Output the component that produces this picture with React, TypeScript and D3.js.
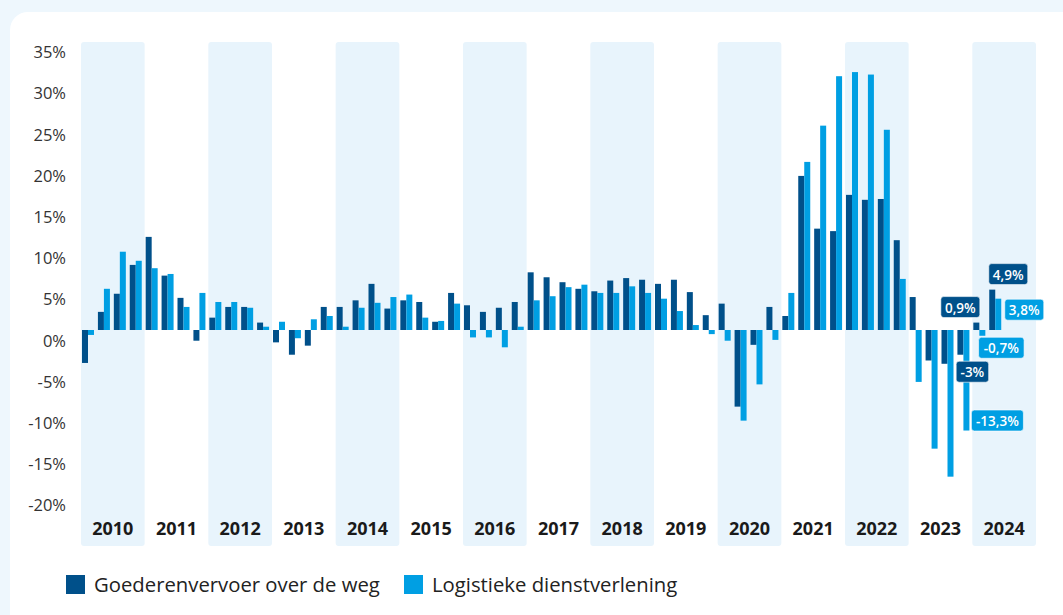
import React from "react";
import * as d3 from "d3";

// year categories and quarterly growth (% y-o-y)
const years = ["2010", "2011", "2012", "2013", "2014", "2015", "2016", "2017", "2018", "2019", "2020", "2021", "2022", "2023", "2024"];
const quarterNames = ["K1", "K2", "K3", "K4"];

const wegvervoer = [
  -4.0, 2.2, 4.4, 7.9,
  11.3, 6.6, 3.9, -1.3,
  1.5, 2.8, 2.8, 0.9,
  -1.5, -3.0, -1.9, 2.8,
  2.8, 3.6, 5.6, 2.6,
  3.6, 3.4, 1.0, 4.5,
  3.0, 2.2, 2.7, 3.4,
  7.0, 6.4, 5.8, 5.0,
  4.7, 6.0, 6.3, 6.1,
  5.6, 6.1, 4.6, 1.8,
  3.2, -9.3, -1.8, 2.8,
  1.7, 18.7, 12.3, 12.0,
  16.4, 15.8, 15.9, 10.9,
  4.0, -3.7, -4.1, -3.0,
  0.9, 4.9,
];

const logistiek = [
  -0.6, 5.0, 9.5, 8.4,
  7.5, 6.8, 2.8, 4.5,
  3.4, 3.4, 2.7, 0.4,
  1.0, -1.0, 1.3, 1.7,
  0.4, 2.7, 3.3, 4.0,
  4.3, 1.5, 1.1, 3.2,
  -0.9, -0.9, -2.1, 0.4,
  3.6, 4.1, 5.2, 5.5,
  4.5, 4.5, 5.3, 4.5,
  3.8, 2.3, 0.6, -0.5,
  -1.3, -11.0, -6.6, -1.2,
  4.5, 20.4, 24.8, 30.8,
  31.3, 31.0, 24.3, 6.2,
  -6.3, -14.4, -17.8, -12.2,
  -0.7, 3.8,
];

const seriesNames = ["Goederenvervoer over de weg", "Logistieke dienstverlening"];
const yTicks = [35, 30, 25, 20, 15, 10, 5, 0, -5, -10, -15, -20];

// value call-outs at the end of the series
const calloutQuarter = ["2024-K1", "2024-K2", "2024-K2", "2024-K1", "2023-K4", "2023-K4"];
const calloutSeries = [0, 0, 1, 1, 0, 1];
const calloutText = ["0,9%", "4,9%", "3,8%", "-0,7%", "-3%", "-13,3%"];

const colors = ["#00508a", "#009fe3"];
const W = 1063, H = 615;

export default function App() {
  const quarters = years.flatMap((y) => quarterNames.map((q) => `${y}-${q}`));
  const rows = wegvervoer.map((v, i) => ({ q: quarters[i], values: [v, logistiek[i]] }));

  const xYear = d3.scaleBand<string>().domain(years).range([81, 1036]);
  const xQ = d3.scaleBand<string>().domain(quarters).range([81, 1036]);
  const xSub = d3.scaleBand<number>().domain([0, 1]).range([1, 13]);
  const y = d3.scaleLinear().domain([-20, 35]).range([494.8, 41.6]);

  const fam = "'Open Sans', 'Noto Sans', sans-serif";

  // call-out offsets from the end of their bar
  const offsets = [[-16, -15.5], [16, -15.5], [26, 11], [19, 12], [12, 17], [31, -10]];

  return (
    <svg width={W} height={H} style={{ position: "absolute", left: 0, top: 0 }} fontFamily={fam}>
      <rect width={W} height={H} fill="#eef7fd" />
      <rect x={10} y={12} width={W + 30} height={H + 30} rx={18} fill="#ffffff" />

      {years.map((yr, i) =>
        i % 2 === 0 ? (
          <rect key={yr} x={xYear(yr)} y={42} width={xYear.bandwidth()} height={504} rx={3} fill="#e8f4fc" />
        ) : null
      )}

      {yTicks.map((t) => (
        <text key={t} x={66} y={y(t) + 10} textAnchor="end" dominantBaseline="central" fontSize={16.5} fill="#333">
          {t}%
        </text>
      ))}

      {rows.map((r) => (
        <g key={r.q} transform={`translate(${xQ(r.q)},0)`}>
          {r.values.map((v, k) => (
            <rect
              key={k}
              x={xSub(k)}
              width={xSub.bandwidth()}
              y={y(Math.max(0, v))}
              height={Math.abs(y(v) - y(0))}
              fill={colors[k]}
            />
          ))}
        </g>
      ))}

      {years.map((yr) => (
        <text key={yr} x={xYear(yr)! + xYear.bandwidth() / 2} y={528} textAnchor="middle" dominantBaseline="central" fontSize={18} fontWeight={700} fill="#1a1a1a">
          {yr}
        </text>
      ))}

      {calloutText.map((t, i) => {
        const qi = quarters.indexOf(calloutQuarter[i]);
        const s = calloutSeries[i];
        const v = rows[qi].values[s];
        const bx = xQ(calloutQuarter[i])! + xSub(s)! + xSub.bandwidth() / 2;
        const by = y(v);
        const cx = bx + offsets[i][0];
        const cy = by + offsets[i][1];
        const w = 6.5 * t.length + 13;
        return (
          <g key={i}>
            <rect x={cx - w / 2} y={cy - 10.5} width={w} height={21} rx={3} fill={colors[s]} stroke="#ffffff" strokeOpacity={0.6} strokeWidth={1} />
            <text x={cx} y={cy + 0.5} textAnchor="middle" dominantBaseline="central" fontSize={13.5} fontWeight={600} fill="#ffffff">
              {t}
            </text>
          </g>
        );
      })}

      {seriesNames.map((n, i) => {
        const lx = i === 0 ? 66 : 404;
        return (
          <g key={n}>
            <rect x={lx} y={575} width={19} height={19} fill={colors[i]} />
            <text x={lx + 28} y={584} dominantBaseline="central" fontSize={20.3} fill="#222">
              {n}
            </text>
          </g>
        );
      })}
    </svg>
  );
}
